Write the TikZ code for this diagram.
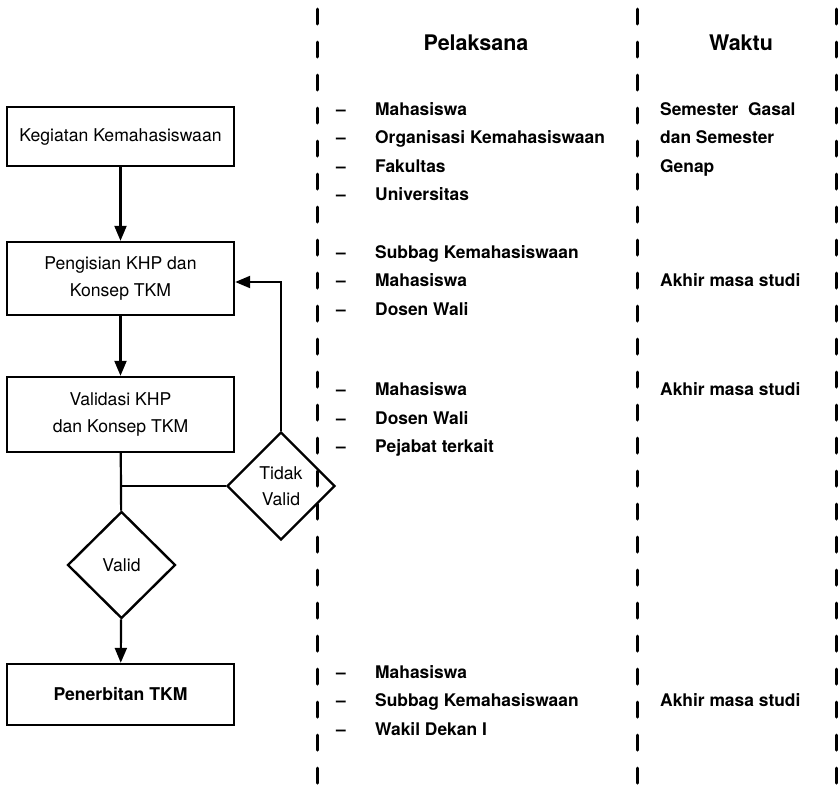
\documentclass[tikz,border=0pt]{standalone}
\usepackage{fontspec}
\setmainfont{TeX Gyre Heros}
\usetikzlibrary{arrows.meta, positioning, shapes.geometric}

\begin{document}
\begin{tikzpicture}[x=1pt, y=-1pt,
  kotak/.style={draw, line width=2.4pt, minimum width=227pt, inner sep=0pt,
    align=center, font=\fontsize{17.6}{26.5}\selectfont},
  belah/.style={draw, diamond, aspect=1, line width=2.4pt, inner sep=0pt,
    minimum width=108pt, minimum height=108pt,
    align=center, font=\fontsize{17.6}{26.5}\selectfont},
  garis/.style={line width=2.2pt},
  panah/.style={garis, -{Triangle[length=15pt, width=12pt]}},
  batas/.style={line width=3pt, line cap=round, dash pattern=on 15pt off 18pt},
  judul/.style={font=\bfseries\fontsize{21.5}{25}\selectfont, anchor=base},
  isi/.style={font=\bfseries\fontsize{17.4}{26}\selectfont, anchor=base west, inner sep=0pt},
  strip/.style={font=\bfseries\fontsize{17.4}{26}\selectfont, anchor=base, inner sep=0pt}]
  \useasboundingbox (0,0) rectangle (839,796);

  % Column borders
  \draw[batas] (317,9) -- (317,790);
  \draw[batas] (637,9) -- (637,790);
  \draw[batas] (836,9) -- (836,790);

  % Headers
  \node[judul] (hpel) at (476,50) {Pelaksana};
  \node[judul] (hwak) at (741,50) {Waktu};

  % Flow
  \node[kotak, minimum height=59pt] (kegiatan) at (120.5,136.5) {Kegiatan Kemahasiswaan};
  \node[kotak, minimum height=73pt] (pengisian) at (120.5,278.5) {Pengisian KHP dan\\Konsep TKM};
  \node[kotak, minimum height=75pt] (validasi) at (120.5,414.5) {Validasi KHP\\dan Konsep TKM};
  \node[belah] (tidakvalid) at (281,486) {Tidak\\Valid};
  \node[belah, minimum height=107pt] (valid) at (121.5,565) {Valid};
  \node[kotak, minimum height=61pt, font=\bfseries\fontsize{17.6}{26.5}\selectfont] (penerbitan) at (120.5,694.5) {Penerbitan TKM};

  \coordinate (cabang) at (validasi.south |- tidakvalid.west);

  \draw[panah] (kegiatan) -- (pengisian);
  \draw[panah] (pengisian) -- (validasi);
  \draw[garis] (validasi) -- (valid);
  \draw[garis] (cabang) -- (tidakvalid.west);
  \draw[panah] (tidakvalid.north) |- ([yshift=-3.5pt]pengisian.east);
  \draw[panah] (valid) -- (penerbitan);

  % Pelaksana
  \foreach \t [count=\i] in {Mahasiswa, Organisasi Kemahasiswaan, Fakultas, Universitas}{
    \node[strip] (pa\i) at (341,86.5+28.5*\i) {--};
    \node[isi] (pb\i) at (375,86.5+28.5*\i) {\t};
  }
  \foreach \t [count=\i] in {Subbag Kemahasiswaan, Mahasiswa, Dosen Wali}{
    \node[strip] (qa\i) at (341,229.5+28.5*\i) {--};
    \node[isi] (qb\i) at (375,229.5+28.5*\i) {\t};
  }
  \foreach \t [count=\i] in {Mahasiswa, Dosen Wali, Pejabat terkait}{
    \node[strip] (ra\i) at (341,367+28.5*\i) {--};
    \node[isi] (rb\i) at (375,367+28.5*\i) {\t};
  }
  \foreach \t [count=\i] in {Mahasiswa, Subbag Kemahasiswaan, Wakil Dekan I}{
    \node[strip] (sa\i) at (341,649.5+28.5*\i) {--};
    \node[isi] (sb\i) at (375,649.5+28.5*\i) {\t};
  }

  % Waktu
  \foreach \t [count=\i] in {Semester\ \ Gasal, dan Semester, Genap}{
    \node[isi] (wa\i) at (660,86.5+28.5*\i) {\t};
  }
  \node[isi] (wb) at (660,286.5) {Akhir masa studi};
  \node[isi] (wc) at (660,395.5) {Akhir masa studi};
  \node[isi] (wd) at (660,706.5) {Akhir masa studi};

\end{tikzpicture}
\end{document}
